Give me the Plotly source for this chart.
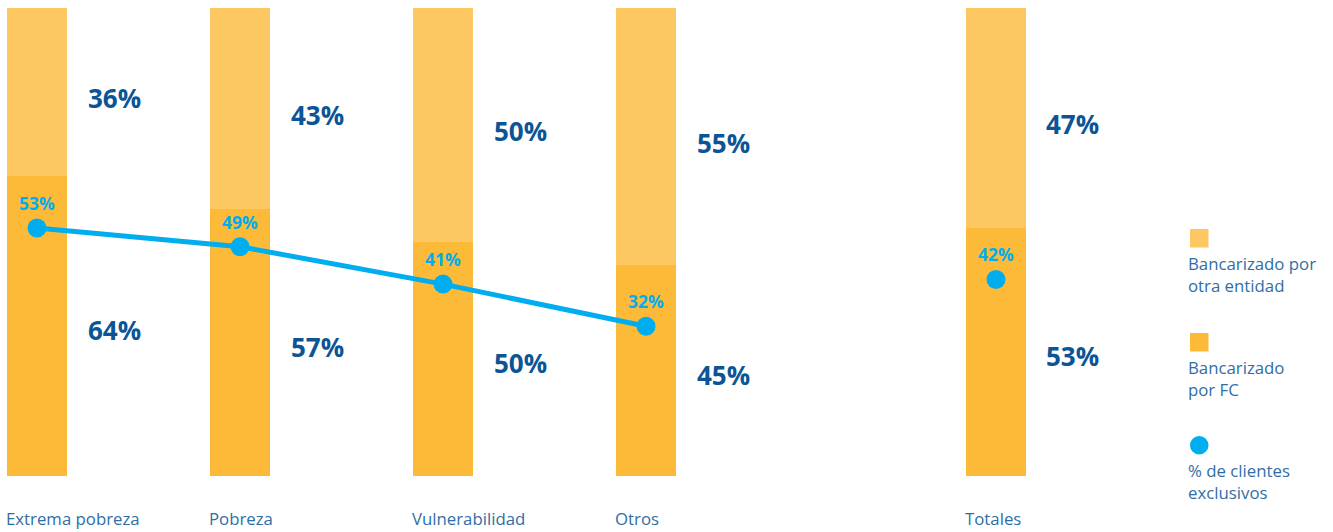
import plotly.graph_objects as go

# Data
categories = ["Extrema pobreza", "Pobreza", "Vulnerabilidad", "Otros", "Totales"]
x_pos = [0, 1, 2, 3, 4.724]           # Totales sits apart from the groups
banc_fc = [64, 57, 50, 45, 53]          # Bancarizado por FC (%)
banc_otra = [36, 43, 50, 55, 47]        # Bancarizado por otra entidad (%)
exclusivos = [53, 49, 41, 32, 42]       # % de clientes exclusivos

legend_labels = ["Bancarizado por<br>otra entidad", "Bancarizado<br>por FC", "% de clientes<br>exclusivos"]

C_FC = "#FDBA38"
C_OTRA = "#FDC862"
C_LINE = "#00AEEF"
C_LABEL = "#0B5596"
C_TEXT = "#2F6EA5"

BAR_W = 0.30
W, H = 1333, 532

fig = go.Figure()

fig.add_trace(go.Bar(x=x_pos, y=banc_fc, width=BAR_W, marker=dict(color=C_FC, line=dict(width=0)),
                     name="Bancarizado por FC", hoverinfo="skip"))
fig.add_trace(go.Bar(x=x_pos, y=banc_otra, width=BAR_W, marker=dict(color=C_OTRA, line=dict(width=0)),
                     name="Bancarizado por otra entidad", hoverinfo="skip"))

# Line across the four groups, separate dot for Totales
fig.add_trace(go.Scatter(x=x_pos[:4], y=exclusivos[:4], mode="lines+markers",
                         line=dict(color=C_LINE, width=5),
                         marker=dict(color=C_LINE, size=19), hoverinfo="skip"))
fig.add_trace(go.Scatter(x=x_pos[4:], y=exclusivos[4:], mode="markers",
                         marker=dict(color=C_LINE, size=19), hoverinfo="skip"))

VAL_FONT = dict(family="Open Sans", size=26, color=C_LABEL, weight=700)
DOT_FONT = dict(family="Open Sans", size=17.5, color=C_LINE, weight=700)
TXT_FONT = dict(family="Open Sans", size=16.8, color=C_TEXT)

annotations = []
for xp, fc, ot, ex, cat in zip(x_pos, banc_fc, banc_otra, exclusivos, categories):
    # segment values to the right of each bar
    annotations.append(dict(x=xp, y=fc / 2, text=f"{fc}%", showarrow=False, xshift=77, yshift=-4,
                            font=VAL_FONT, xanchor="center"))
    annotations.append(dict(x=xp, y=fc + ot / 2, text=f"{ot}%", showarrow=False, xshift=77, yshift=-6,
                            font=VAL_FONT, xanchor="center"))
    # line value above each dot
    annotations.append(dict(x=xp, y=ex, text=f"{ex}%", showarrow=False, yshift=25,
                            font=DOT_FONT, xanchor="center"))
    # category label, left-aligned with the bar
    annotations.append(dict(x=xp - BAR_W / 2, y=0, text=cat, showarrow=False, xanchor="left", yanchor="middle",
                            xshift=-3, yshift=-42, font=TXT_FONT))

# Legend drawn manually on the right
leg_x = 1190 / W
leg_items = [(C_OTRA, "square", 229), (C_FC, "square", 333), (C_LINE, "circle", 436)]
shapes = []
for (col, kind, top), lab in zip(leg_items, legend_labels):
    shapes.append(dict(type="rect" if kind == "square" else "circle", xref="paper", yref="paper",
                       x0=leg_x, x1=(1190 + 18.5) / W, y0=1 - (top + 18.5) / H, y1=1 - top / H,
                       fillcolor=col, line=dict(width=0)))
    annotations.append(dict(xref="paper", yref="paper", x=1186 / W, y=1 - (top + 21) / H, text=lab,
                            showarrow=False, xanchor="left", yanchor="top", align="left",
                            font=TXT_FONT))

fig.update_layout(
    barmode="stack",
    width=W, height=H,
    margin=dict(l=0, r=0, t=0, b=0),
    paper_bgcolor="white", plot_bgcolor="white",
    showlegend=False,
    xaxis=dict(range=[-37 / 203, (W - 37) / 203], visible=False, fixedrange=True),
    yaxis=dict(range=[-(H - 476) / 4.68, 100 + 8 / 4.68], visible=False, fixedrange=True),
    annotations=annotations,
    shapes=shapes,
)

fig.write_html("out.html")
